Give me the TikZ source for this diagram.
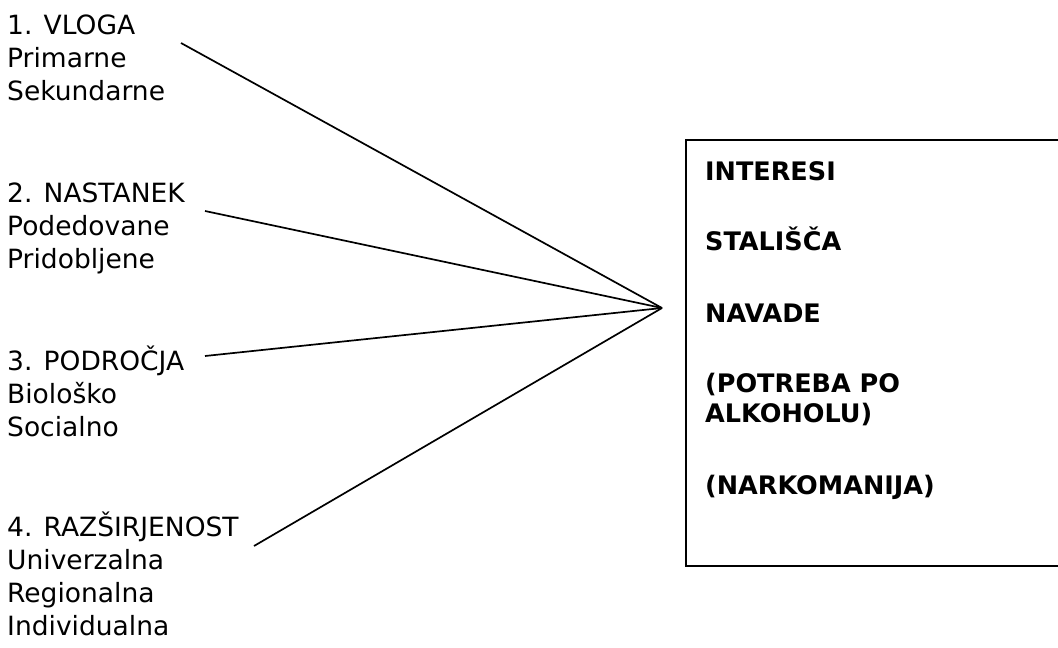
\documentclass[tikz,border=0pt]{standalone}
\usepackage{fontspec}
\setmainfont{DejaVu Sans}
\begin{document}
\begin{tikzpicture}[x=1pt,y=-1pt,
  item/.style={anchor=base west, align=left, inner sep=0pt,
    font=\fontsize{26.5}{33}\selectfont},
  key/.style={anchor=base west, align=left, inner sep=0pt,
    font=\bfseries\fontsize{25.5}{30}\selectfont},
  link/.style={line width=1.7pt},
  frame/.style={draw, line width=2pt, inner sep=0pt}]
\useasboundingbox (0,0) rectangle (1058,648);
\fill[white] (0,0) rectangle (1058,648);

% classification groups on the left (placed by the baseline of their last line)
\node[item] (g1) at (7,100) {1. VLOGA\\Primarne\\Sekundarne};
\node[item] (g2) at (7,268) {2. NASTANEK\\Podedovane\\Pridobljene};
\node[item] (g3) at (7,436) {3. PODROČJA\\Biološko\\Socialno};
\node[item] (g4) at (7,635) {4. RAZŠIRJENOST\\Univerzalna\\Regionalna\\Individualna};

% framed list on the right
\node[frame, anchor=north west, minimum width=380pt, minimum height=426pt] (box) at (685,139) {};
\node[key] (k1) at (705,180) {INTERESI};
\node[key] (k2) at (705,250) {STALIŠČA};
\node[key] (k3) at (705,322) {NAVADE};
\node[key] (k4) at (705,422) {(POTREBA PO\\ALKOHOLU)};
\node[key] (k5) at (705,494) {(NARKOMANIJA)};

% converging lines
\coordinate (hub) at (662,308);
\coordinate (e1) at (181,43);
\coordinate (e2) at (205,211);
\coordinate (e3) at (205,356);
\coordinate (e4) at (254,546);
\draw[link] (e1) -- (hub);
\draw[link] (e2) -- (hub);
\draw[link] (e3) -- (hub);
\draw[link] (e4) -- (hub);
\end{tikzpicture}
\end{document}
